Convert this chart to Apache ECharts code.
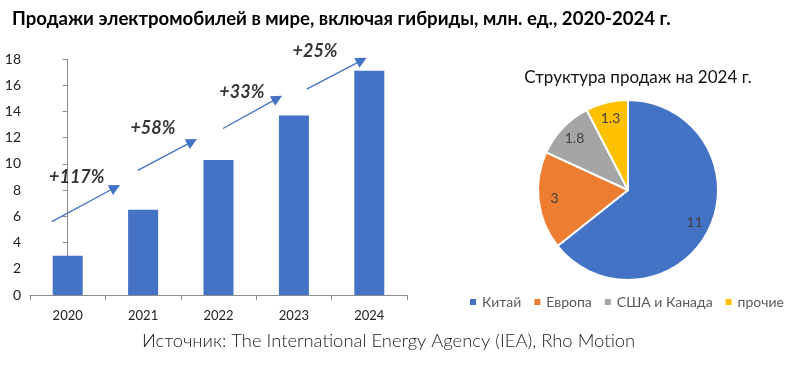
<!DOCTYPE html>
<html><head><meta charset="utf-8">
<script src="https://cdn.jsdelivr.net/npm/echarts@6/dist/echarts.min.js"></script>
<style>html,body{margin:0;padding:0;background:#fff}#c{width:800px;height:366px}</style>
</head><body><div id="c"></div>
<script>
const years = ['2020','2021','2022','2023','2024'];
const sales = [3.0, 6.5, 10.3, 13.7, 17.1];
const yTicks = [0,2,4,6,8,10,12,14,16,18];
const growthLabels = ['+117%','+58%','+33%','+25%'];
const growthLabelPos = [[0.12,9.0],[1.13,12.7],[2.31,15.5],[3.28,18.6]];
const arrowFrom = [[-0.21,5.6],[0.93,9.5],[2.06,12.7],[3.17,15.7]];
const arrowTo = [[0.63,8.2],[1.65,11.7],[2.78,15.0],[3.9,17.9]];
const regions = ['Китай','Европа','США и Канада','прочие'];
const regionValues = [11, 3, 1.8, 1.3];
const regionColors = ['#4472C4','#ED7D31','#A5A5A5','#FFC000'];
const mainTitle = 'Продажи электромобилей в мире, включая гибриды, млн. ед., 2020-2024 г.';
const pieTitle = 'Структура продаж на 2024 г.';
const sourceText = 'Источник: The International Energy Agency (IEA), Rho Motion';

const chart = echarts.init(document.getElementById('c'), null, {renderer:'canvas'});
const axisColor = '#8c8c8c';
chart.setOption({
  animation:false,
  graphic:[
    {type:'text', left:12, top:9, style:{text:mainTitle, font:'bold 18.6px Lato', fill:'#000'}},
    {type:'text', left:142, top:332, style:{text:sourceText, font:'300 18.4px Lato', fill:'#222'}}
  ],
  title:{text:pieTitle, left:633, top:64, textAlign:'center',
    textStyle:{fontFamily:'Lato', fontWeight:'normal', fontSize:17, color:'#111'}},
  legend:{data:regions, left:463, top:290, icon:'rect', itemWidth:8, itemHeight:8, itemGap:11,
    textStyle:{fontFamily:'Lato', fontSize:14, color:'#595959'}},
  grid:{left:30, right:393, top:59, bottom:71},
  xAxis:[
    {type:'category', data:years, axisLine:{lineStyle:{color:axisColor}},
     axisTick:{show:true, length:5, lineStyle:{color:axisColor}},
     axisLabel:{fontFamily:'Lato', fontSize:13, color:'#222', margin:14}},
    {type:'value', min:-0.5, max:4.5, show:false}
  ],
  yAxis:{type:'value', min:0, max:18, interval:2, splitLine:{show:false},
    axisLine:{show:true, lineStyle:{color:axisColor}},
    axisTick:{show:true, length:5, lineStyle:{color:axisColor}},
    axisLabel:{fontFamily:'Lato', fontSize:14, color:'#222', margin:9}},
  series:[
    {type:'bar', data:sales, barWidth:30, itemStyle:{color:'#4472C4'}},
    {type:'lines', coordinateSystem:'cartesian2d', xAxisIndex:1, yAxisIndex:0, polyline:false,
     symbol:['none','triangle'], symbolSize:[1,11], clip:false,
     lineStyle:{color:'#4472C4', width:1.3, opacity:1},
     data: arrowFrom.map((f,i)=>({coords:[f, arrowTo[i]]}))},
    {type:'scatter', xAxisIndex:1, yAxisIndex:0, symbolSize:0, clip:false, silent:true,
     data: growthLabelPos.map((p,i)=>({value:p, label:{show:true, formatter:growthLabels[i]}})),
     label:{position:'inside', fontFamily:'Lato', fontStyle:'italic', fontWeight:'bold', fontSize:18, color:'#000'}},
    {type:'pie', center:[628,190], radius:90, startAngle:90, clockwise:true, silent:true,
     data: regions.map((r,i)=>({name:r, value:regionValues[i], itemStyle:{color:regionColors[i]}})),
     itemStyle:{borderColor:'#fff', borderWidth:2}, label:{show:false}, labelLine:{show:false}},
    {type:'pie', center:[628,190], radius:[52,90], startAngle:90, clockwise:true, silent:true,
     legendHoverLink:false,
     data: regions.map((r,i)=>({name:r, value:regionValues[i], itemStyle:{color:'rgba(0,0,0,0)'}})),
     label:{show:true, position:'inside', formatter:'{c}', fontFamily:'Lato', fontSize:14, color:'#404040'},
     labelLine:{show:false}}
  ]
});
</script></body></html>
